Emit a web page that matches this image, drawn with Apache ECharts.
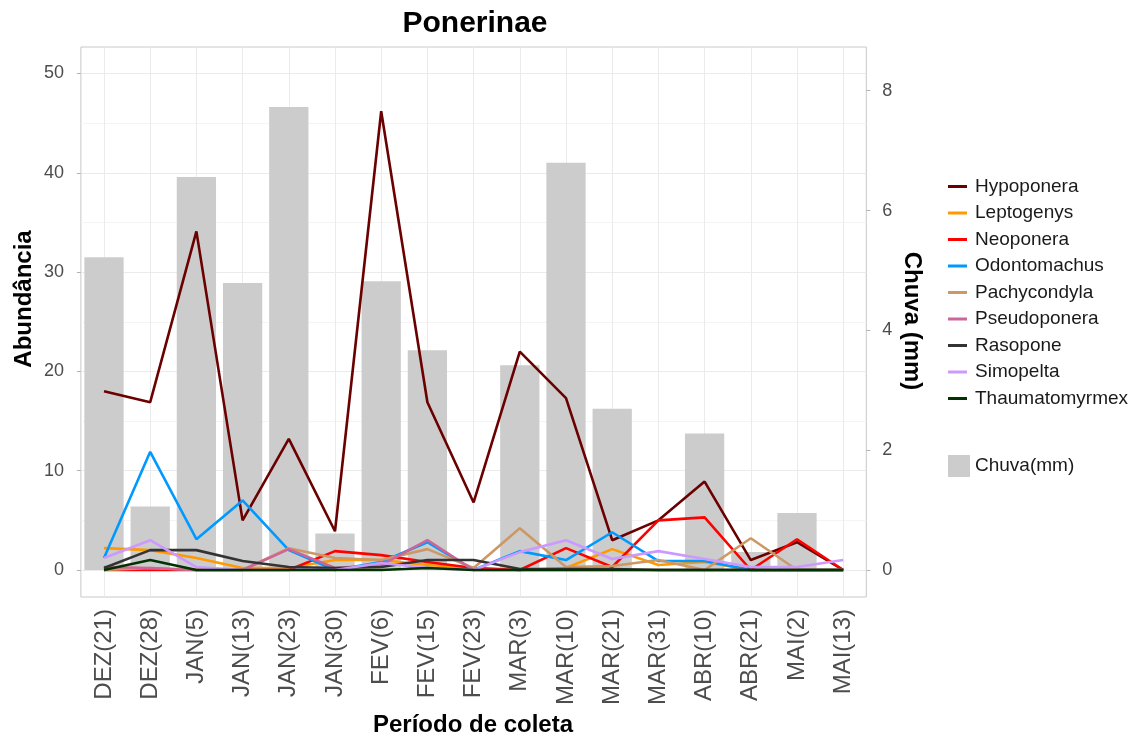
<!DOCTYPE html>
<html>
<head>
<meta charset="utf-8">
<script src="https://cdn.jsdelivr.net/npm/echarts@6/dist/echarts.min.js"></script>
<style>
html,body{margin:0;padding:0;background:#fff;}
#chart{width:1137px;height:744px;}
</style>
</head>
<body>
<div id="chart"></div>
<script>
const categories = ['DEZ(21)','DEZ(28)','JAN(5)','JAN(13)','JAN(23)','JAN(30)','FEV(6)','FEV(15)','FEV(23)','MAR(3)','MAR(10)','MAR(21)','MAR(31)','ABR(10)','ABR(21)','MAI(2)','MAI(13)'];
const chuva = [5.22,1.06,6.56,4.79,7.73,0.61,4.82,3.67,0,3.42,6.80,2.69,0,2.28,0.30,0.95,0];
const hypoponera = [18.0,16.9,34.1,5.0,13.2,3.9,46.2,16.9,6.8,22.0,17.3,3.0,5.0,8.9,1.0,2.8,0];
const leptogenys = [2.2,2.0,1.2,0.2,0.2,1.0,1.0,0.5,0.2,0,0.2,2.1,0.5,0.8,0,0,0];
const neoponera = [0,0,0,0,0,1.9,1.5,0.8,0.2,0,2.2,0.3,5.0,5.3,0,3.1,0];
const odontomachus = [1.2,11.9,3.1,7.0,2.0,0,0.8,2.8,0,1.9,1.0,3.8,0.9,0.9,0,0,0];
const pachycondyla = [0,0.2,0,0,2.2,1.2,1.0,2.1,0.2,4.2,0.3,0.4,1.0,0,3.2,0,0];
const pseudoponera = [0.3,0.2,0,0,2.1,0.2,0.5,3.0,0,0,0,0,0,0,0,0,0];
const rasopone = [0.2,2.0,2.0,0.9,0.3,0.2,0.3,1.0,1.0,0.1,0.1,0.1,0,0,0,0,0];
const simopelta = [1.2,3.0,0.3,0,0,0,0.7,0.2,0,1.8,3.0,1.1,1.9,1.1,0.3,0.3,1.0];
const thaumatomyrmex = [0,1.0,0,0,0,0,0,0.2,0,0,0,0,0,0,0,0,0];
const leftTicks = [0,10,20,30,40,50];
const leftMinorTicks = [5,15,25,35,45];
const rightTicks = [0,2,4,6,8];

const speciesNames = ['Hypoponera','Leptogenys','Neoponera','Odontomachus','Pachycondyla','Pseudoponera','Rasopone','Simopelta','Thaumatomyrmex'];
const speciesData = [hypoponera,leptogenys,neoponera,odontomachus,pachycondyla,pseudoponera,rasopone,simopelta,thaumatomyrmex];
const speciesColors = ['#6b0000','#ff9900','#ff0000','#0099ff','#cc9966','#cc6699','#333333','#cc99ff','#003300'];

const FONT = "'Liberation Sans', Arial, Helvetica, sans-serif";
const chart = echarts.init(document.getElementById('chart'), null, {renderer:'canvas'});

const gridMarks = leftMinorTicks.map(v => ({yAxis: v, lineStyle:{color:'#f4f4f4', width:1, type:'solid'}}))
  .concat(categories.map(c => ({xAxis: c, lineStyle:{color:'#ebebeb', width:1, type:'solid'}})));

const series = [{
  name: 'Chuva(mm)',
  type: 'bar',
  yAxisIndex: 1,
  data: chuva,
  barWidth: '85%',
  itemStyle: {color:'#cccccc'},
  z: 2
}];
speciesNames.forEach((n,i) => {
  const s = {
    name: n,
    type: 'line',
    yAxisIndex: 0,
    data: speciesData[i],
    symbol: 'none',
    showSymbol: false,
    clip: false,
    z: 3 + i,
    lineStyle: {color: speciesColors[i], width: 2.6},
    itemStyle: {color: speciesColors[i]}
  };
  if (i === 0) {
    s.markLine = {
      silent: true, symbol: 'none', z: 1,
      label: {show:false}, emphasis: {disabled:true}, animation: false,
      data: gridMarks
    };
  }
  series.push(s);
});

const option = {
  animation: false,
  backgroundColor: '#ffffff',
  title: {
    text: 'Ponerinae',
    left: 470, top: 4, textAlign: 'center',
    textStyle: {fontFamily: FONT, fontSize: 30, fontWeight: 'bold', color: '#000'}
  },
  grid: {
    left: 80.9, right: 270.7, top: 47, bottom: 147,
    show: true, borderColor: '#c8c8c8', borderWidth: 1, backgroundColor: '#ffffff'
  },
  legend: [{
    data: speciesNames,
    orient: 'vertical',
    left: 948, top: 177, padding: 0,
    itemWidth: 19, itemHeight: 14, itemGap: 7.5,
    icon: 'path://M0,6 L19,6 L19,9 L0,9 Z',
    textStyle: {fontFamily: FONT, fontSize: 19, color: '#1a1a1a', padding: [0,0,0,3]},
    selectedMode: false
  },{
    data: ['Chuva(mm)'],
    orient: 'vertical',
    left: 948, top: 455, padding: 0,
    itemWidth: 22, itemHeight: 22,
    icon: 'rect',
    textStyle: {fontFamily: FONT, fontSize: 19, color: '#1a1a1a'},
    selectedMode: false
  }],
  xAxis: {
    type: 'category',
    data: categories,
    boundaryGap: true,
    axisLine: {show: false},
    axisTick: {show: true, alignWithLabel: true, length: 5, lineStyle: {color: '#b3b3b3'}},
    axisLabel: {interval: 0, rotate: 90, margin: 12, fontFamily: FONT, fontSize: 24, color: '#4d4d4d'},
    splitLine: {show: false}
  },
  yAxis: [{
    type: 'value',
    min: -2.72, max: 52.67, splitNumber: 5,
    axisLine: {show: false},
    axisTick: {show: true, length: 4, customValues: leftTicks, lineStyle: {color: '#b3b3b3'}},
    axisLabel: {margin: 17, fontFamily: FONT, fontSize: 18, color: '#4d4d4d', customValues: leftTicks,
      formatter: v => (Math.abs(v/10 - Math.round(v/10)) < 1e-6 ? String(Math.round(v)) : '')},
    splitLine: {show: true, lineStyle: {color: '#ebebeb', width: 1}}
  },{
    type: 'value',
    min: -0.45, max: 8.73, splitNumber: 5,
    position: 'right',
    axisLine: {show: false},
    axisTick: {show: true, length: 4, customValues: rightTicks, lineStyle: {color: '#b3b3b3'}},
    axisLabel: {margin: 16, fontFamily: FONT, fontSize: 18, color: '#4d4d4d', customValues: rightTicks,
      formatter: v => (Math.abs(v/2 - Math.round(v/2)) < 1e-6 ? String(Math.round(v)) : '')},
    splitLine: {show: false}
  }],
  graphic: [{
    type: 'text', x: 24, y: 299, rotation: Math.PI/2,
    style: {text: 'Abundância', fontFamily: FONT, fontSize: 24, fontWeight: 'bold', fill: '#000', align: 'center', verticalAlign: 'middle'}
  },{
    type: 'text', x: 912, y: 321, rotation: -Math.PI/2,
    style: {text: 'Chuva (mm)', fontFamily: FONT, fontSize: 24, fontWeight: 'bold', fill: '#000', align: 'center', verticalAlign: 'middle'}
  },{
    type: 'text', x: 473, y: 725,
    style: {text: 'Período de coleta', fontFamily: FONT, fontSize: 24, fontWeight: 'bold', fill: '#000', align: 'center', verticalAlign: 'middle'}
  }],
  series: series
};
chart.setOption(option);
</script>
</body>
</html>
